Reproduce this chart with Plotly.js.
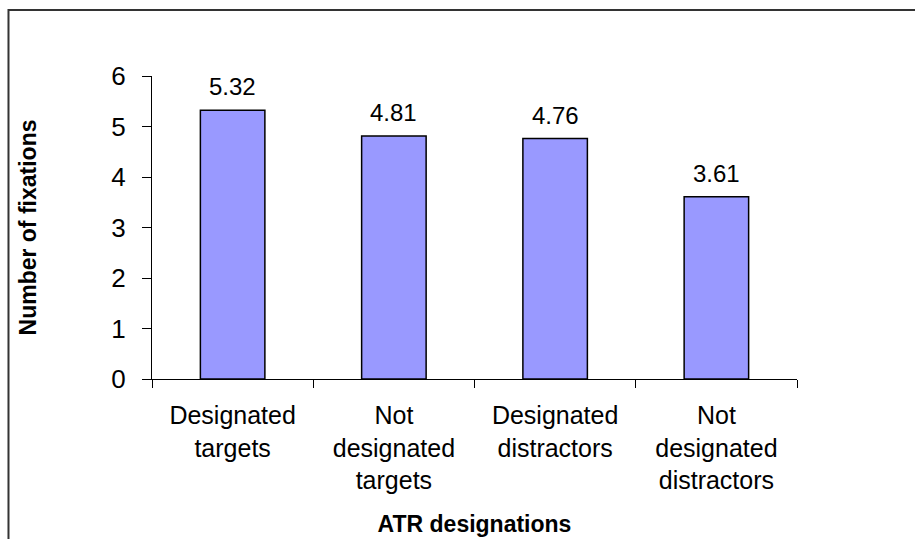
<!DOCTYPE html>
<html>
<head>
<meta charset="utf-8">
<script src="https://cdn.plot.ly/plotly-3.0.1.min.js"></script>
<style>
  html, body { margin: 0; padding: 0; background: #fff; }
  #chart { width: 915px; height: 539px; }
</style>
</head>
<body>
<div id="chart"></div>
<script>
const categories = ["Designated<br>targets", "Not<br>designated<br>targets", "Designated<br>distractors", "Not<br>designated<br>distractors"];
const values = [5.32, 4.81, 4.76, 3.61];
const valueLabels = ["5.32", "4.81", "4.76", "3.61"];
const yTicks = [0, 1, 2, 3, 4, 5, 6];
const xTitle = "ATR designations";
const yTitle = "Number of fixations";

const FONT = "Arial, 'Liberation Sans', sans-serif";

const trace = {
  type: "bar",
  x: categories,
  y: values,
  marker: { color: "#9999FF", line: { color: "#000000", width: 1.5 } },
  hoverinfo: "x+y"
};

const annotations = categories.map((c, i) => ({
  x: c, y: values[i], xref: "x", yref: "y",
  text: valueLabels[i], showarrow: false,
  yanchor: "bottom", yshift: 8,
  font: { family: FONT, size: 24, color: "#000" }
}));

const layout = {
  width: 915, height: 539,
  margin: { l: 152, r: 118, t: 76, b: 160 },
  paper_bgcolor: "#fff", plot_bgcolor: "#fff",
  showlegend: false,
  bargap: 0.6,
  font: { family: FONT, color: "#000" },
  xaxis: {
    type: "category",
    tickson: "boundaries",
    ticks: "outside", ticklen: 8, tickcolor: "#000", tickwidth: 1,
    showline: true, linecolor: "#000", linewidth: 1,
    showgrid: false, zeroline: false,
    tickfont: { family: FONT, size: 25, color: "#000" },
    ticklabelstandoff: 14,
    title: { text: xTitle, font: { family: FONT, size: 23, color: "#000", weight: "bold" }, standoff: 22 }
  },
  yaxis: {
    range: [0, 6],
    tickvals: yTicks,
    ticktext: yTicks.map(String),
    ticks: "outside", ticklen: 9, tickcolor: "#000", tickwidth: 1,
    showline: true, linecolor: "#000", linewidth: 1,
    showgrid: false, zeroline: false,
    tickfont: { family: FONT, size: 26, color: "#000" },
    ticklabelstandoff: 11,
    title: { text: yTitle, font: { family: FONT, size: 23, color: "#000", weight: "bold" }, standoff: 68 }
  },
  annotations: annotations,
  shapes: [{
    type: "rect", xref: "paper", yref: "paper",
    x0: -0.2225, x1: 1.19, y0: -0.535, y1: 1.2178,
    line: { color: "#333", width: 2 }, fillcolor: "rgba(0,0,0,0)", layer: "below"
  }]
};

Plotly.newPlot("chart", [trace], layout, { displayModeBar: false, staticPlot: true });
</script>
</body>
</html>
